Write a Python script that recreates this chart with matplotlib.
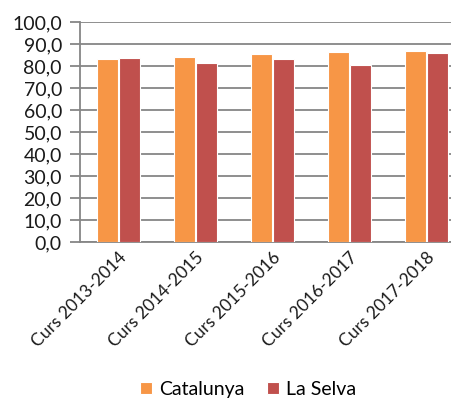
import matplotlib.pyplot as plt
import numpy as np

cursos = ['Curs 2013-2014', 'Curs 2014-2015', 'Curs 2015-2016',
          'Curs 2016-2017', 'Curs 2017-2018']
catalunya = [83.3, 84.1, 85.3, 86.2, 87.0]
la_selva = [83.8, 81.5, 83.2, 80.3, 85.8]

plt.rcParams['font.family'] = ['Lato', 'DejaVu Sans']

fig = plt.figure(figsize=(4.51, 4.01), dpi=100)
# area de dibuix (es talla per la dreta com a l'original)
ax = fig.add_axes([80/451, 1 - 242/401, 385/451, 220/401])

x = np.arange(len(cursos))
w = 0.27
ax.bar(x - w/2 - 0.01, catalunya, w, color='#F79646', edgecolor='white',
       linewidth=0.8, label='Catalunya', zorder=3)
ax.bar(x + w/2 + 0.01, la_selva, w, color='#C0504D', edgecolor='white',
       linewidth=0.8, label='La Selva', zorder=3)

ax.set_xlim(-0.5, len(cursos) - 0.5)
ax.set_ylim(0, 100)
ax.set_yticks(np.arange(0, 101, 10))
ax.set_yticklabels([('%.1f' % v).replace('.', ',') for v in range(0, 101, 10)])
ax.grid(axis='y', color='#868686', linewidth=1.3, zorder=0)

for s in ['top', 'right']:
    ax.spines[s].set_visible(False)
for s in ['left', 'bottom']:
    ax.spines[s].set_color('#868686')
    ax.spines[s].set_linewidth(1.3)

ax.tick_params(axis='y', length=7, width=1.3, color='#868686',
               labelsize=14, pad=6, labelcolor='#1a1a1a')
ax.tick_params(axis='x', length=0, pad=5, labelcolor='#1a1a1a')
ax.set_xticks(x)
ax.set_xticklabels(cursos, rotation=45, ha='right', rotation_mode='anchor',
                   fontsize=12.5)

fig.legend(loc='lower center', bbox_to_anchor=(0.55, -0.035), ncol=2,
           frameon=False, fontsize=14, handlelength=0.6, handleheight=0.6,
           columnspacing=1.2, handletextpad=0.35)

fig.savefig('out.png', dpi=100)
